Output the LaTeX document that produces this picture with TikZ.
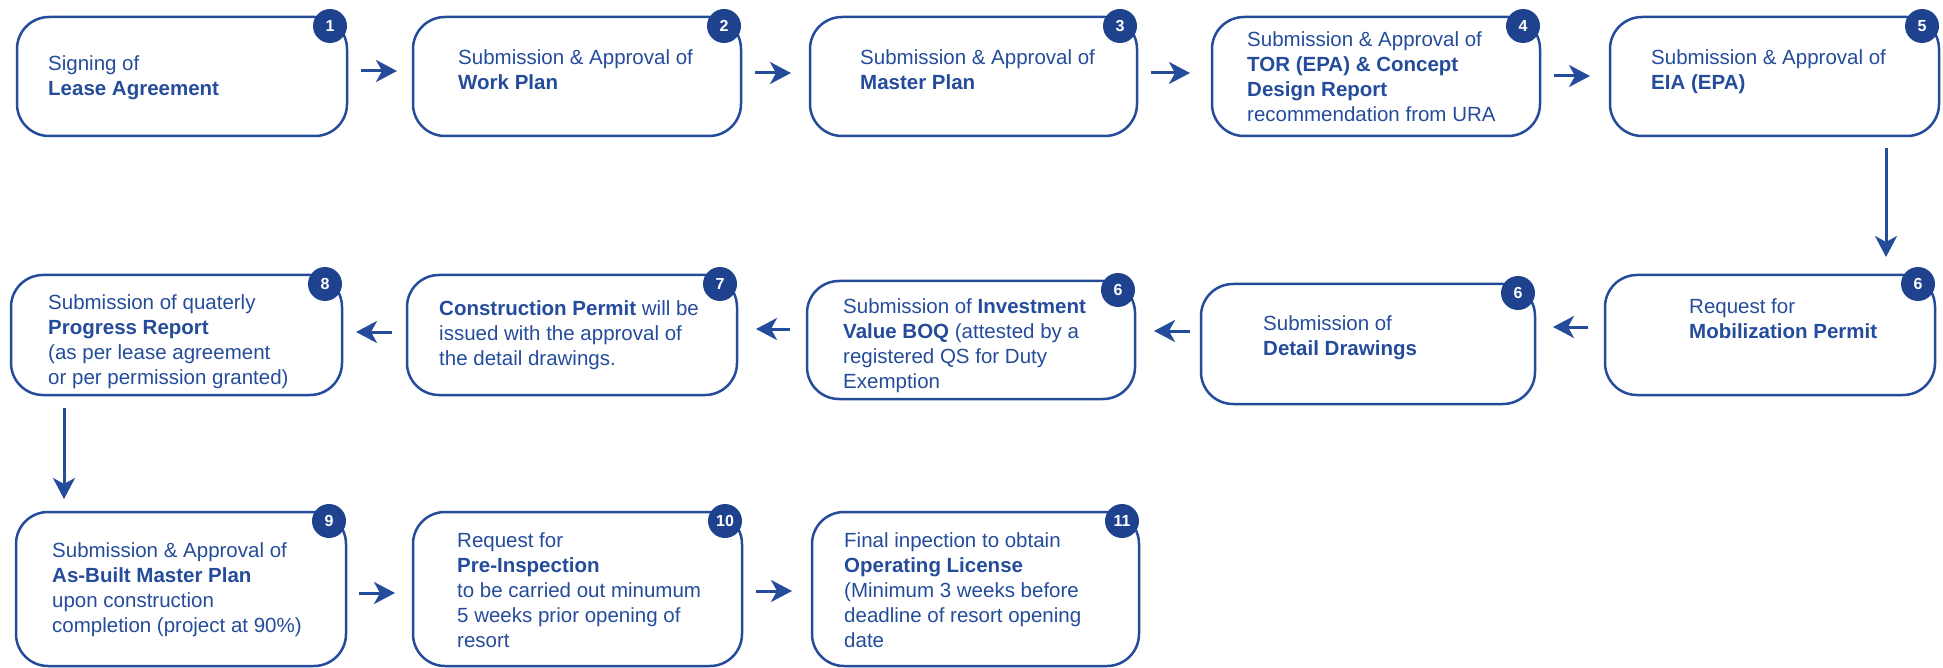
\documentclass[tikz,border=0pt]{standalone}
\usepackage{fontspec}
\setmainfont{Liberation Sans}
\usetikzlibrary{arrows.meta}
\definecolor{blu}{RGB}{36,76,154}
\definecolor{bdg}{RGB}{30,66,142}
\tikzset{
  box/.style={draw=blu, line width=2.5pt, rounded corners=32pt, inner sep=0pt, outer sep=0pt},
  badge/.style={circle, fill=bdg, minimum size=34pt, inner sep=0pt, text=white, font=\fontsize{16}{16}\selectfont\bfseries},
  txt/.style={anchor=base west, inner sep=0pt, align=left, text=blu, font=\fontsize{20.5}{25}\selectfont},
  arr/.style={draw=blu, line width=3pt, -{Stealth[length=21pt,width=22pt,inset=6pt]}}
}
\newcommand\mkbox[6]{%
  \node[box, minimum width={(#4-#2)*1pt}, minimum height={(#5-#3)*1pt}] (#1) at ({(#2+#4)/2},{(#3+#5)/2}) {};
  \node[badge] (#1n) at ({#4-17},{#3+9}) {#6};
}
\begin{document}
\begin{tikzpicture}[x=1pt,y=-1pt]
\useasboundingbox (0,0) rectangle (1943,668);
% boxes
\mkbox{b1}{17}{17}{347}{136}{1}
\mkbox{b2}{413}{17}{741}{136}{2}
\mkbox{b3}{810}{17}{1137}{136}{3}
\mkbox{b4}{1212}{17}{1540}{136}{4}
\mkbox{b5}{1610}{17}{1939}{136}{5}
\mkbox{b6c}{1605}{275}{1935}{395}{6}
\mkbox{b6b}{1201}{284}{1535}{404}{6}
\mkbox{b6a}{807}{281}{1135}{399}{6}
\mkbox{b7}{407}{275}{737}{395}{7}
\mkbox{b8}{11}{275}{342}{395}{8}
\mkbox{b9}{16}{512}{346}{666}{9}
\mkbox{b10}{413}{512}{742}{666}{10}
\mkbox{b11}{812}{512}{1139}{666}{11}
% texts (anchored at the baseline of the last line)
\node[txt] (t1) at (48,96) {Signing of\\\textbf{Lease Agreement}};
\node[txt] (t2) at (458,90) {Submission \& Approval of\\\textbf{Work Plan}};
\node[txt] (t3) at (860,90) {Submission \& Approval of\\\textbf{Master Plan}};
\node[txt] (t4) at (1247,122) {Submission \& Approval of\\\textbf{TOR (EPA) \& Concept}\\\textbf{Design Report}\\recommendation from URA};
\node[txt] (t5) at (1651,90) {Submission \& Approval of\\\textbf{EIA (EPA)}};
\node[txt] (t6c) at (1689,338) {Request for\\\textbf{Mobilization Permit}};
\node[txt] (t6b) at (1263,355) {Submission of\\\textbf{Detail Drawings}};
\node[txt] (t6a) at (843,388) {Submission of \textbf{Investment}\\\textbf{Value BOQ} (attested by a\\registered QS for Duty\\Exemption};
\node[txt] (t7) at (439,365) {\textbf{Construction Permit} will be\\issued with the approval of\\the detail drawings.};
\node[txt] (t8) at (48,384) {Submission of quaterly\\\textbf{Progress Report}\\(as per lease agreement\\or per permission granted)};
\node[txt] (t9) at (52,632) {Submission \& Approval of\\\textbf{As-Built Master Plan}\\upon construction\\completion (project at 90\%)};
\node[txt] (t10) at (457,647) {Request for\\\textbf{Pre-Inspection}\\to be carried out minumum\\5 weeks prior opening of\\resort};
\node[txt] (t11) at (844,647) {Final inpection to obtain\\\textbf{Operating License}\\(Minimum 3 weeks before\\deadline of resort opening\\date};
% arrows row 1
\draw[arr, shorten <=14pt, shorten >=16pt] (b1.east |- 0,71) -- (b2.west |- 0,71);
\draw[arr, shorten <=14pt, shorten >=19pt] (b2.east |- 0,73) -- (b3.west |- 0,73);
\draw[arr, shorten <=14pt, shorten >=22pt] (b3.east |- 0,73) -- (b4.west |- 0,73);
\draw[arr, shorten <=14pt, shorten >=20pt] (b4.east |- 0,76) -- (b5.west |- 0,76);
% down
\draw[arr, shorten <=12pt, shorten >=18pt] (b5.south -| 1886,0) -- (b6c.north -| 1886,0);
% row 2
\draw[arr, shorten <=17pt, shorten >=18pt] (b6c.west |- 0,327) -- (b6b.east |- 0,327);
\draw[arr, shorten <=11pt, shorten >=19pt] (b6b.west |- 0,331) -- (b6a.east |- 0,331);
\draw[arr, shorten <=17pt, shorten >=19pt] (b6a.west |- 0,329) -- (b7.east |- 0,329);
\draw[arr, shorten <=15pt, shorten >=14pt] (b7.west |- 0,332) -- (b8.east |- 0,332);
% down
\draw[arr, shorten <=13pt, shorten >=13pt] (b8.south -| 64,0) -- (b9.north -| 64,0);
% row 3
\draw[arr, shorten <=13pt, shorten >=18pt] (b9.east |- 0,593) -- (b10.west |- 0,593);
\draw[arr, shorten <=14pt, shorten >=20pt] (b10.east |- 0,591) -- (b11.west |- 0,591);
\end{tikzpicture}
\end{document}
